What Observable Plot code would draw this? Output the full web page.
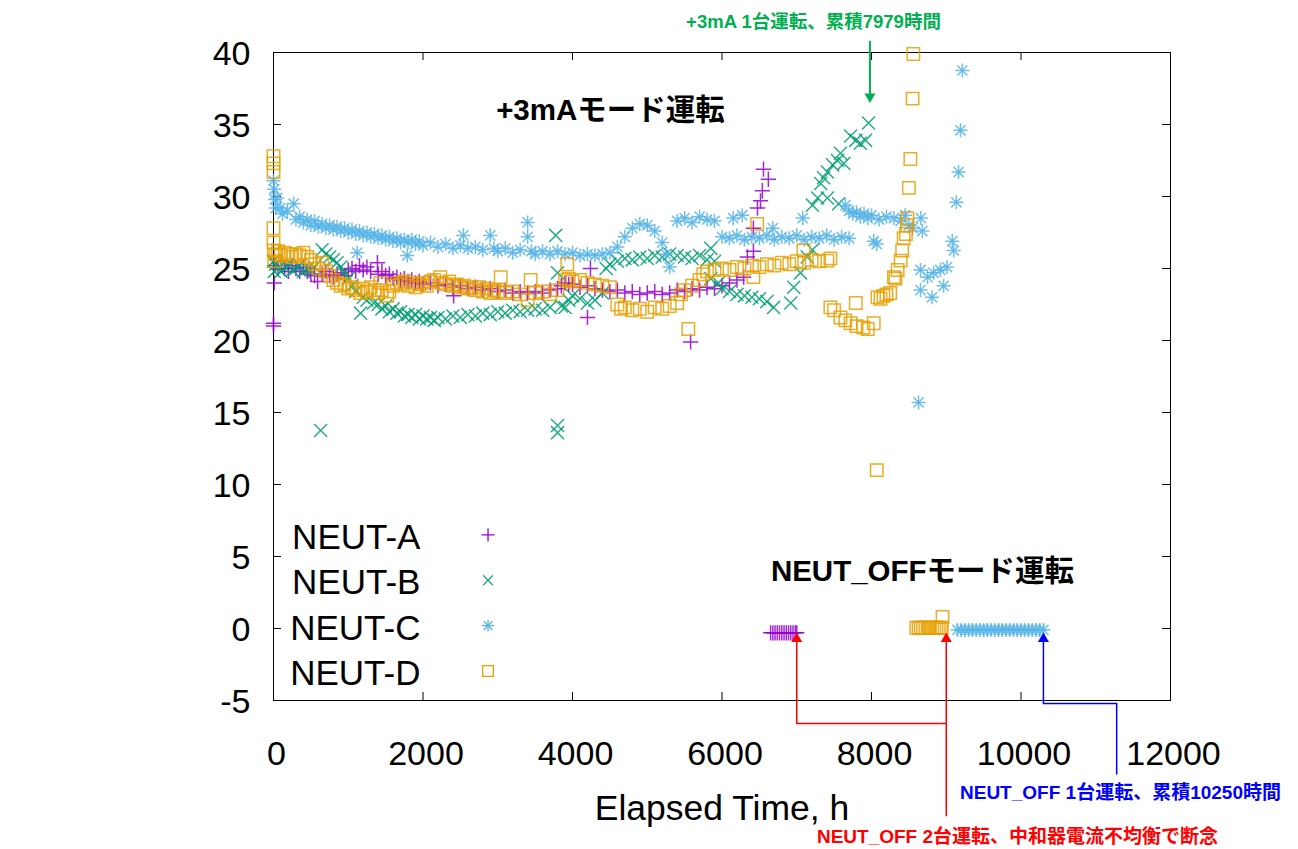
<!DOCTYPE html>
<html><head><meta charset="utf-8">
<script src="https://cdn.jsdelivr.net/npm/d3@7"></script>
<script src="https://cdn.jsdelivr.net/npm/@observablehq/plot@0.6"></script>
<style>body{margin:0;background:#fff;}</style>
</head><body><div id="chart"></div>
<script>
// ---- data: [elapsed time h, value] ----
const neutA = [[0,21.0],[0,21.2],[10,24.0],[20,25.2],[60,25.0],[100,25.5],[150,25.0],[200,24.8],[250,25.2],[300,25.0],[350,24.8],[400,25.1],[450,24.8],[500,24.6],[550,24.5],[590,24.1],[650,24.6],[700,24.8],[750,24.5],[800,24.4],[850,24.6],[900,24.7],[950,24.5],[1000,24.9],[1050,25.0],[1100,24.8],[1150,25.2],[1200,24.9],[1250,25.1],[1300,24.8],[1390,25.4],[1400,24.6],[1450,24.8],[1500,24.5],[1550,24.6],[1600,24.3],[1650,24.4],[1700,24.2],[1750,24.3],[1800,24.1],[1850,24.2],[1900,24.0],[1950,24.1],[2000,23.9],[2100,24.0],[2200,23.8],[2300,23.9],[2410,23.1],[2400,23.7],[2500,23.8],[2600,23.6],[2700,23.7],[2800,23.5],[2900,23.6],[3000,23.4],[3100,23.5],[3200,23.3],[3300,23.4],[3400,23.3],[3500,23.4],[3600,23.3],[3700,23.5],[3800,23.6],[3850,23.8],[3900,24.0],[3950,23.9],[4000,23.9],[4100,23.7],[4200,21.6],[4240,25.0],[4200,23.8],[4300,23.6],[4400,23.5],[4500,23.4],[4600,23.5],[4700,23.3],[4800,23.4],[4900,23.2],[5000,23.3],[5100,23.4],[5200,23.2],[5300,23.3],[5400,23.5],[5500,23.4],[5580,19.9],[5600,23.6],[5700,23.5],[5800,23.7],[5900,23.6],[6000,23.8],[6100,24.0],[6200,24.2],[6290,24.4],[6340,25.8],[6420,26.2],[6420,27.8],[6475,29.2],[6515,29.7],[6540,30.4],[6555,31.9],[6620,31.2]];
const neutA_off = [[6650,-0.3],[6680,-0.3],[6710,-0.3],[6740,-0.3],[6770,-0.3],[6800,-0.3],[6830,-0.3],[6860,-0.3],[6890,-0.3],[6920,-0.3],[6950,-0.3],[6980,-0.3],[7000,-0.3]];

const neutB = [[0,25.5],[10,24.8],[30,25.3],[60,25.0],[100,24.8],[150,25.1],[200,25.2],[250,24.9],[300,25.0],[350,25.2],[400,24.8],[450,25.0],[500,24.9],[550,25.1],[630,13.75],[650,26.3],[700,26.0],[750,25.8],[800,25.6],[850,25.4],[900,25.1],[950,24.7],[1000,24.3],[1050,23.8],[1100,23.4],[1165,21.9],[1200,23.0],[1250,22.8],[1340,22.6],[1400,22.5],[1450,22.2],[1500,22.4],[1550,22.0],[1600,22.2],[1650,21.9],[1700,22.0],[1750,21.7],[1800,21.8],[1850,21.6],[1900,21.8],[1950,21.5],[2000,21.7],[2050,21.5],[2100,21.6],[2150,21.4],[2200,21.6],[2300,21.5],[2400,21.7],[2500,21.6],[2600,21.8],[2700,21.7],[2800,21.9],[2900,21.8],[3000,22.0],[3100,21.9],[3200,22.1],[3300,22.0],[3400,22.1],[3500,22.2],[3600,22.1],[3700,22.3],[3775,27.3],[3800,24.7],[3800,14.1],[3800,13.6],[3850,22.4],[3900,22.3],[3950,22.8],[4000,23.1],[4100,22.9],[4200,22.6],[4300,22.8],[4400,23.3],[4450,25.0],[4500,25.3],[4600,25.5],[4700,25.7],[4800,25.6],[4900,25.8],[5000,25.7],[5100,25.9],[5200,25.8],[5300,26.0],[5400,25.9],[5500,25.8],[5600,25.7],[5700,25.9],[5850,26.4],[5800,25.6],[5900,25.5],[5850,24.3],[5950,24.0],[6000,23.6],[6100,23.4],[6200,23.2],[6300,23.1],[6400,23.0],[6500,22.9],[6600,22.7],[6690,22.3],[6920,22.6],[6960,23.7],[7050,24.7],[7140,25.8],[7210,26.3],[7210,29.4],[7280,29.9],[7320,30.9],[7360,31.3],[7410,31.7],[7410,29.9],[7480,32.2],[7545,32.5],[7560,29.5],[7585,33.0],[7630,32.3],[7720,34.2],[7790,33.9],[7850,33.7],[7920,33.9],[7960,35.1]];

const neutC = [[0,31.1],[10,30.5],[20,29.8],[30,29.2],[50,29.9],[90,29.2],[120,28.8],[185,29.0],[270,29.5],[300,28.4],[350,28.6],[400,28.2],[450,28.4],[500,28.0],[550,28.3],[600,27.9],[650,28.1],[700,27.8],[750,28.0],[800,27.7],[850,27.9],[900,27.6],[950,27.8],[1000,27.5],[1050,27.7],[1120,26.1],[1100,27.4],[1150,27.6],[1200,27.3],[1250,27.5],[1300,27.2],[1350,27.4],[1400,27.1],[1450,27.3],[1500,27.0],[1550,27.2],[1600,26.9],[1650,27.1],[1700,26.8],[1790,25.9],[1750,27.0],[1800,26.8],[1850,27.0],[1900,26.7],[1950,26.9],[2000,26.6],[2100,26.8],[2200,26.5],[2300,26.7],[2400,26.4],[2540,27.3],[2500,26.6],[2600,26.4],[2700,26.5],[2800,26.3],[2900,27.3],[2950,26.4],[3000,26.2],[3100,26.4],[3200,26.1],[3300,26.3],[3400,28.2],[3400,27.2],[3450,26.2],[3500,26.0],[3600,26.2],[3700,26.0],[3800,26.2],[3900,26.0],[4000,26.1],[4100,25.9],[4200,26.0],[4300,25.9],[4400,26.0],[4500,26.1],[4600,26.5],[4700,27.2],[4800,27.8],[4900,28.1],[5000,28.0],[5100,27.6],[5200,26.8],[5250,26.0],[5300,25.1],[5400,28.3],[5500,28.5],[5600,28.2],[5700,28.6],[5800,28.4],[5900,28.3],[6000,27.2],[6150,28.5],[6270,28.7],[6100,27.1],[6200,27.3],[6300,27.0],[6400,27.2],[6500,27.1],[6600,27.3],[6680,27.8],[6700,27.0],[6800,27.2],[6900,27.1],[7000,27.3],[7080,28.5],[7100,27.0],[7200,27.2],[7300,27.1],[7400,27.3],[7500,27.0],[7600,27.2],[7700,27.1],[7650,29.4],[7700,29.0],[7750,28.8],[7800,28.9],[7850,28.6],[7900,28.8],[7950,28.5],[8030,26.9],[8070,26.7],[8000,28.7],[8100,28.4],[8200,28.6],[8300,28.5],[8390,28.3],[8450,28.7],[8500,28.0],[8550,27.8],[8630,15.7],[8655,24.9],[8655,23.5],[8660,28.5],[8680,27.6],[8750,24.4],[8810,23.0],[8830,24.7],[8920,24.9],[8965,23.8],[9010,25.1],[9080,26.9],[9100,26.25],[9135,29.6],[9165,31.7],[9190,34.6],[9215,38.75]];
const neutC_off = [[9150,-0.1],[9200,-0.1],[9250,-0.1],[9300,-0.1],[9350,-0.1],[9400,-0.1],[9450,-0.1],[9500,-0.1],[9550,-0.1],[9600,-0.1],[9650,-0.1],[9700,-0.1],[9750,-0.1],[9800,-0.1],[9850,-0.1],[9900,-0.1],[9950,-0.1],[10000,-0.1],[10050,-0.1],[10100,-0.1],[10150,-0.1],[10200,-0.1],[10250,-0.1],[10300,-0.1]];

const neutD = [[0,32.8],[0,32.3],[0,31.7],[0,27.8],[0,26.8],[5,26.25],[10,25.5],[30,26.0],[60,26.2],[100,25.9],[150,26.1],[200,26.0],[250,25.8],[300,26.0],[350,25.9],[400,26.1],[450,25.8],[500,25.6],[550,25.3],[600,25.0],[650,25.4],[700,24.8],[750,24.5],[800,24.2],[850,24.0],[900,23.8],[950,23.9],[1000,23.6],[1050,23.7],[1100,23.5],[1160,23.3],[1200,23.6],[1250,23.4],[1300,23.7],[1350,23.5],[1430,24.0],[1400,23.3],[1450,23.5],[1520,23.1],[1550,23.4],[1600,23.8],[1650,24.0],[1700,23.9],[1750,24.1],[1800,23.8],[1850,24.0],[1900,23.7],[1950,23.9],[2000,24.0],[2050,23.8],[2100,24.1],[2150,24.2],[2230,24.4],[2250,24.0],[2300,23.9],[2350,24.1],[2400,23.8],[2450,23.9],[2500,23.7],[2550,23.8],[2600,23.6],[2650,23.7],[2700,23.5],[2750,23.7],[2800,23.4],[2850,23.6],[2900,23.3],[2950,23.5],[3040,24.4],[3000,23.4],[3100,23.3],[3200,23.4],[3300,23.2],[3400,22.8],[3440,24.2],[3500,23.3],[3600,23.4],[3700,23.2],[3800,23.5],[3930,25.3],[3900,24.2],[3950,24.3],[4000,24.1],[4100,24.2],[4200,24.0],[4300,23.9],[4400,23.8],[4500,23.7],[4600,22.5],[4650,22.2],[4700,22.3],[4800,22.1],[4900,22.2],[5000,22.0],[5100,22.3],[5200,22.2],[5300,22.4],[5400,22.6],[5450,23.2],[5500,23.5],[5550,20.8],[5600,23.8],[5700,24.2],[5750,24.6],[5800,24.8],[5900,24.9],[6000,25.0],[6100,24.9],[6200,25.1],[6300,25.0],[6420,24.4],[6470,28.1],[6400,25.2],[6500,25.1],[6600,25.3],[6700,25.2],[6800,25.4],[6900,25.3],[7000,25.5],[7090,26.25],[7100,25.4],[7200,25.6],[7300,25.5],[7410,25.55],[7450,25.7],[7450,22.3],[7500,22.1],[7585,21.6],[7650,21.4],[7720,21.2],[7790,22.6],[7800,21.0],[7890,20.9],[7950,20.8],[8030,21.2],[8070,11.0],[8080,23.0],[8120,22.9],[8160,23.1],[8200,23.2],[8250,23.3],[8300,24.4],[8320,24.3],[8350,24.9],[8390,25.55],[8410,26.25],[8430,27.1],[8460,27.4],[8480,28.0],[8480,28.5],[8500,30.6],[8520,32.6],[8550,36.8],[8560,39.9]];
const neutD_off = [[8600,0.05],[8630,0.05],[8660,0.05],[8690,0.05],[8720,0.05],[8750,0.05],[8780,0.05],[8810,0.05],[8840,0.05],[8870,0.05],[8900,0.05],[8930,0.05],[8940,0.05],[8950,0.8]];

// ---- ticks & labels ----
const xTicks = [0, 2000, 4000, 6000, 8000, 10000, 12000];
const yTicks = [-5, 0, 5, 10, 15, 20, 25, 30, 35, 40];
const seriesNames = ["NEUT-A", "NEUT-B", "NEUT-C", "NEUT-D"];
const seriesColors = ["#9400d3", "#009e73", "#56b4e9", "#e69f00"];
const xTitle = "Elapsed Time, h";

// ---- annotations (data units) ----
const modeLabels = [
  {x: 4508, y: 35.97, text: "+3mAモード運転"},
  {x: 8682, y: 3.96, text: "NEUT_OFFモード運転"}
];
const greenNote = {x: 7224, y: 42.1, text: "+3mA 1台運転、累積7979時間"};
const redNote = {x: 9953, y: -14.45, text: "NEUT_OFF 2台運転、中和器電流不均衡で断念"};
const blueNote = {x: 11331, y: -11.45, text: "NEUT_OFF 1台運転、累積10250時間"};
const greenArrow = [[7979, 40.75], [7979, 36.8]];
const greenTip = [[7979, 36.5]];
const redPath1 = [[7000, -0.8], [7000, -6.6], [9000, -6.6]];
const redPath2 = [[9000, -0.8], [9000, -13.0]];
const redTips = [[7000, -0.28], [9000, -0.28]];
const bluePath = [[10300, -0.8], [10300, -5.2], [11280, -5.2], [11280, -10.1]];
const blueTips = [[10300, -0.28]];
const legendLabelX = 1966, legendSymbolX = 2870;
const legendY = [6.32, 3.16, 0.0, -3.13];
const legendSymbolY = [6.5, 3.35, 0.2, -2.95];

// ---- layout ----
const W = 1298, H = 849, mL = 273, mR = 128, mT = 52, mB = 149;
const frameW = W - mL - mR, frameH = H - mT - mB, tickLen = 8;
const FONT = "'Liberation Sans', Arial, Helvetica, 'Noto Sans CJK JP', sans-serif";

const X = d => d[0], Y = d => d[1];
const pt = {strokeWidth: 1.5, strokeOpacity: 0.85};

const legendRows = seriesNames.map((n, i) => ({name: n, y: legendY[i], sy: legendSymbolY[i], i}));

const plot = Plot.plot({
  width: W, height: H,
  marginLeft: mL, marginRight: mR, marginTop: mT, marginBottom: mB,
  x: {domain: [0, 12000]},
  y: {domain: [-5, 40]},
  style: {fontFamily: FONT, background: "white", color: "black", overflow: "visible"},
  marks: [
    Plot.frame({stroke: "black", strokeWidth: 1}),
    Plot.ruleX(xTicks, {insetTop: frameH - tickLen, stroke: "black"}),
    Plot.ruleX(xTicks, {insetBottom: frameH - tickLen, stroke: "black"}),
    Plot.ruleY(yTicks, {insetRight: frameW - tickLen, stroke: "black"}),
    Plot.ruleY(yTicks, {insetLeft: frameW - tickLen, stroke: "black"}),
    Plot.axisX({ticks: xTicks, tickSize: 0, tickPadding: 40, dx: 3, tickFormat: d => String(d), fontSize: 34, label: null}),
    Plot.axisY({ticks: yTicks, tickSize: 0, tickPadding: 23, dy: 2, tickFormat: d => String(d), fontSize: 34, label: null}),
    Plot.text([xTitle], {frameAnchor: "bottom", dy: 119, fontSize: 35.5, text: d => d}),

    // series
    Plot.dot(neutA.concat(neutA_off), {x: X, y: Y, symbol: "plus", r: 5.0, stroke: seriesColors[0], ...pt}),
    Plot.dot(neutB, {x: X, y: Y, symbol: "times", r: 6.0, stroke: seriesColors[1], ...pt}),
    Plot.dot(neutC.concat(neutC_off), {x: X, y: Y, symbol: "plus", r: 4.6, stroke: seriesColors[2], ...pt}),
    Plot.dot(neutC.concat(neutC_off), {x: X, y: Y, symbol: "times", r: 4.7, stroke: seriesColors[2], ...pt}),
    Plot.dot(neutD.concat(neutD_off), {x: X, y: Y, symbol: "square", r: 7.0, fill: "none", stroke: seriesColors[3], ...pt}),

    // legend
    Plot.text(legendRows, {x: legendLabelX, y: "y", text: "name", textAnchor: "end", fontSize: 35, fill: "black"}),
    Plot.dot(legendRows.filter(d => d.i === 0), {x: legendSymbolX, y: "sy", symbol: "plus", r: 4.3, stroke: seriesColors[0], strokeWidth: 1.3}),
    Plot.dot(legendRows.filter(d => d.i === 1), {x: legendSymbolX, y: "sy", symbol: "times", r: 4.5, stroke: seriesColors[1], strokeWidth: 1.3}),
    Plot.dot(legendRows.filter(d => d.i === 2), {x: legendSymbolX, y: "sy", symbol: "plus", r: 3.9, stroke: seriesColors[2], strokeWidth: 1.3}),
    Plot.dot(legendRows.filter(d => d.i === 2), {x: legendSymbolX, y: "sy", symbol: "times", r: 4.0, stroke: seriesColors[2], strokeWidth: 1.3}),
    Plot.dot(legendRows.filter(d => d.i === 3), {x: legendSymbolX, y: "sy", symbol: "square", r: 6.0, fill: "none", stroke: seriesColors[3], strokeWidth: 1.3}),

    // mode labels
    Plot.text(modeLabels, {x: "x", y: "y", text: "text", fontSize: 29.5, fontWeight: "bold", fill: "black"}),

    // annotations
    Plot.line(greenArrow, {x: X, y: Y, stroke: "#00b050", strokeWidth: 2}),
    Plot.dot(greenTip, {x: X, y: Y, symbol: "triangle", r: 4.1, fill: "#00b050", rotate: 180, dy: -6.3}),
    Plot.text([greenNote], {x: "x", y: "y", text: "text", fontSize: 18.5, fontWeight: "bold", fill: "#00b050"}),

    Plot.line(redPath1, {x: X, y: Y, stroke: "#ff0000", strokeWidth: 1.5}),
    Plot.line(redPath2, {x: X, y: Y, stroke: "#ff0000", strokeWidth: 1.5}),
    Plot.dot(redTips, {x: X, y: Y, symbol: "triangle", r: 4.1, fill: "#ff0000", dy: 6.3}),
    Plot.text([redNote], {x: "x", y: "y", text: "text", fontSize: 19, fontWeight: "bold", fill: "#ff0000"}),

    Plot.line(bluePath, {x: X, y: Y, stroke: "#0000ff", strokeWidth: 1.5}),
    Plot.dot(blueTips, {x: X, y: Y, symbol: "triangle", r: 4.1, fill: "#0000ff", dy: 6.3}),
    Plot.text([blueNote], {x: "x", y: "y", text: "text", fontSize: 19, fontWeight: "bold", fill: "#0000ff"})
  ]
});
document.getElementById("chart").appendChild(plot);
</script>
</body></html>
